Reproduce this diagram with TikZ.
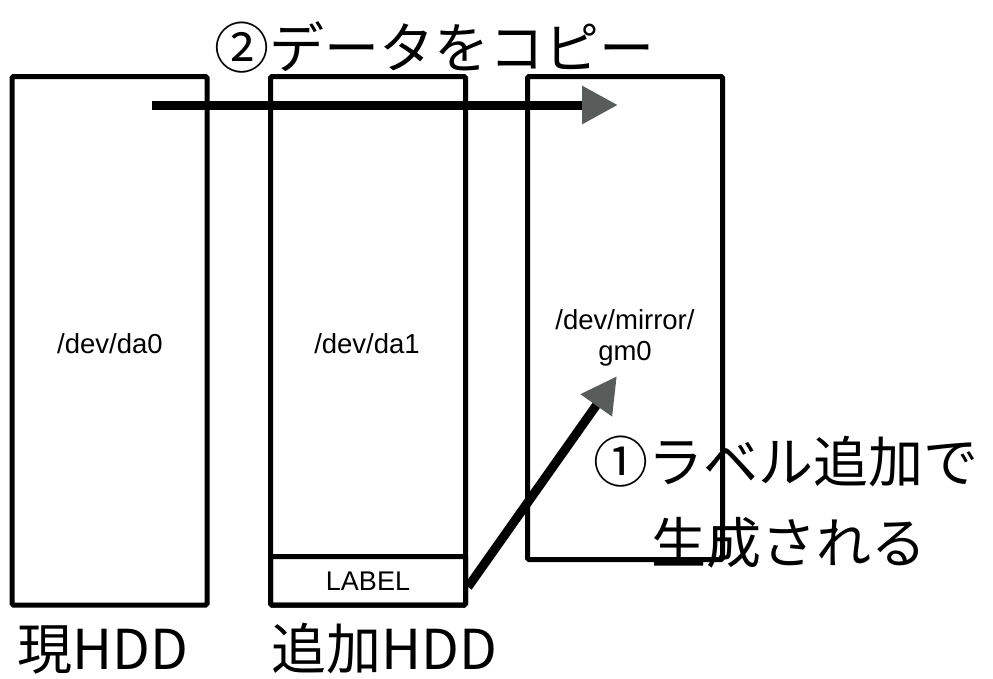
\documentclass[tikz,border=0pt]{standalone}
\usepackage{fontspec}
\setmainfont{Liberation Sans}
\newfontfamily\jp{Noto Sans CJK JP}
\usetikzlibrary{arrows.meta}
\definecolor{arrowgray}{HTML}{585C5B}
\tikzset{
  disk/.style={draw=black, line width=5pt, rounded corners=1.5pt, inner sep=0pt, minimum width=195pt},
  devtext/.style={font=\fontsize{27.5}{31}\selectfont, align=center, inner sep=0pt},
  jptext/.style={font=\jp\fontsize{55}{60}\selectfont, inner sep=0pt, anchor=base},
  flow/.style={line width=9pt, -{Triangle[length=36pt,width=36pt,color=arrowgray]}},
}
\begin{document}
\begin{tikzpicture}[x=1pt,y=-1pt]
\useasboundingbox (0,0) rectangle (993,678);
% disks
\node[disk, minimum height=528.5pt] (da0) at (109.5,340.75) {};
\node[disk, minimum height=528.5pt] (da1) at (368,340.75) {};
\node[disk, minimum height=483pt] (gm0) at (625,318) {};
\node[disk, minimum height=48.5pt, font=\fontsize{27}{30}\selectfont] (label) at (368,580.75) {LABEL};
% labels inside
\node[devtext] (t0) at (110,344) {/dev/da0};
\node[devtext] (t1) at (367,344) {/dev/da1};
\node[devtext] (t2) at (625,338) {/dev/mirror/\\gm0};
% arrows
\coordinate (cstart) at (152,105);
\coordinate (cend) at (618,105);
\draw[flow] (cstart) -- (cend);
\coordinate (lstart) at (468,587);
\coordinate (lend) at (617,376);
\draw[flow] (lstart) -- (lend);
% Japanese captions
\node[jptext] (copy) at (434,68) {②データをコピー};
\node[jptext] (gen1) at (785.5,482) {①ラベル追加で};
\node[jptext] (gen2) at (788.5,563) {生成される};
\node[jptext] (cur) at (102.5,669) {現HDD};
\node[jptext] (add) at (384,669) {追加HDD};
\end{tikzpicture}
\end{document}
